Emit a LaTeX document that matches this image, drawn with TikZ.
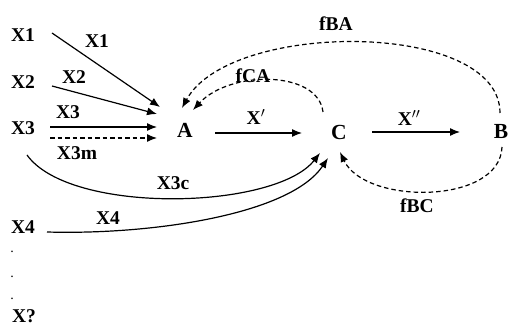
\documentclass[tikz,border=0pt]{standalone}
\usepackage{fontspec}
\setmainfont{Liberation Serif}
\usetikzlibrary{arrows.meta}
\begin{document}
\begin{tikzpicture}[x=1pt,y=-1pt,
  lbl/.style={font=\fontsize{19.5}{22}\selectfont\bfseries, inner sep=0pt},
  big/.style={font=\fontsize{21.5}{24}\selectfont\bfseries, inner sep=0pt},
  dotl/.style={font=\fontsize{14}{16}\selectfont, inner sep=0pt},
  conn/.style={line width=1.2pt, -{Latex[length=10pt,width=8pt]}},
  fb/.style={conn, dash pattern=on 4.5pt off 3pt}]
\useasboundingbox (0,0) rectangle (509,326);
% nodes
\node[lbl] (x1) at (23,35) {X1};
\node[lbl] (x2) at (23,82) {X2};
\node[lbl] (x3) at (23,128) {X3};
\node[lbl] (x4) at (23,227) {X4};
\node[dotl] (d1) at (12,252) {.};
\node[dotl] (d2) at (12,277) {.};
\node[dotl] (d3) at (12,299) {.};
\node[lbl] (xq) at (24,316) {X?};
\node[big] (A) at (185,130) {A};
\node[big] (C) at (339,132) {C};
\node[big] (B) at (501,131) {B};
% anchor coordinates
\coordinate (x1s) at (52,33);   \coordinate (x1e) at (160,107);
\coordinate (x2s) at (52,86);   \coordinate (x2e) at (157,114);
\coordinate (x3s) at (50,127);  \coordinate (x3e) at (157,127);
\coordinate (x3ms) at (50,138); \coordinate (x3me) at (157,138);
\coordinate (acs) at (215,133); \coordinate (ace) at (302,133);
\coordinate (cbs) at (372,132); \coordinate (cbe) at (460,132);
\coordinate (x3cs) at (27,155); \coordinate (x3ce) at (320,153);
\coordinate (x4s) at (47,232);  \coordinate (x4e) at (328,158);
\coordinate (bas) at (500,113); \coordinate (bae) at (182,108);
\coordinate (cas) at (323,112); \coordinate (cae) at (193,110);
\coordinate (bcs) at (502,147); \coordinate (bce) at (340,152);
% connectors
\draw[conn] (x1s) -- (x1e);
\draw[conn] (x2s) -- (x2e);
\draw[conn] (x3s) -- (x3e);
\draw[fb] (x3ms) -- (x3me);
\draw[conn] (acs) -- (ace);
\draw[conn] (cbs) -- (cbe);
\draw[conn] (x3cs) .. controls (70,215) and (275,210) .. (x3ce);
\draw[conn] (x4s) .. controls (150,235) and (290,215) .. (x4e);
\draw[fb] (bas) .. controls (500,20) and (230,20) .. (bae);
\draw[fb] (cas) .. controls (318,70) and (230,70) .. (cae);
\draw[fb] (bcs) .. controls (500,205) and (365,205) .. (bce);
% labels
\node[lbl] (l1) at (97,41) {X1};
\node[lbl] (l2) at (74,77) {X2};
\node[lbl] (l3) at (68,112) {X3};
\node[lbl] (l3m) at (77,153) {X3m};
\node[lbl] (l3c) at (173,183) {X3c};
\node[lbl] (l4) at (108,218) {X4};
\node[lbl] (lxp) at (256,117) {X$'$};
\node[lbl] (lxpp) at (409,118) {X$''$};
\node[lbl] (lba) at (336,24) {fBA};
\node[lbl] (lca) at (253,76) {fCA};
\node[lbl] (lbc) at (417,206) {fBC};
\end{tikzpicture}
\end{document}
